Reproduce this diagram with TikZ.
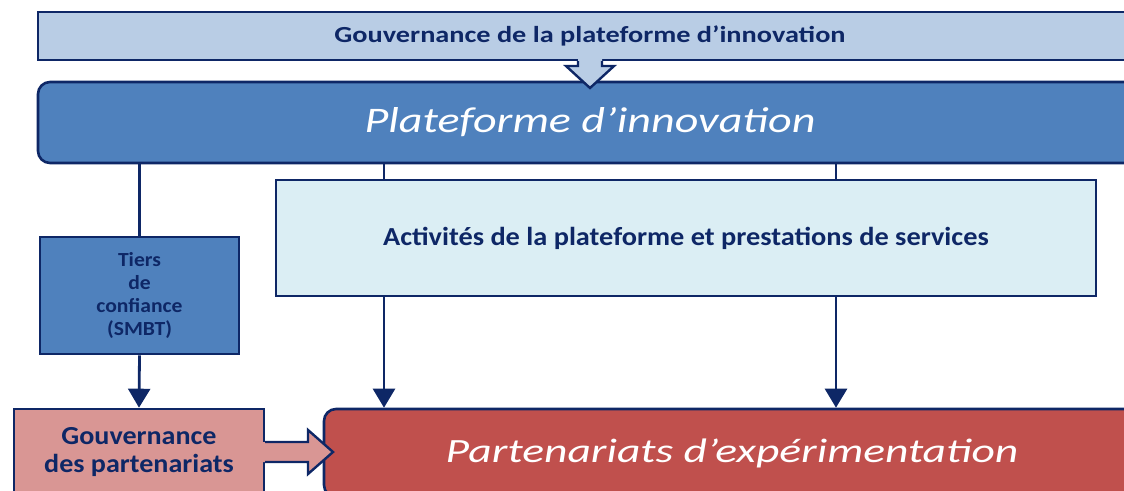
\documentclass[tikz,border=0pt]{standalone}
\usepackage{fontspec}
\setmainfont{Carlito}
\newfontfamily\topfont[FakeStretch=1.23]{Carlito}
\newfontfamily\platfont[FakeStretch=1.28]{Carlito}
\newfontfamily\partfont[FakeStretch=1.34]{Carlito}
\newfontfamily\actfont[FakeStretch=1.09]{Carlito}
\newfontfamily\smallfont[FakeStretch=1.08]{Carlito}
\usetikzlibrary{arrows.meta}
\definecolor{navy}{HTML}{0E2766}
\definecolor{topblue}{HTML}{B9CDE5}
\definecolor{midblue}{HTML}{4F81BD}
\definecolor{paleblue}{HTML}{DBEEF4}
\definecolor{pink}{HTML}{D99694}
\definecolor{redbox}{HTML}{C0504D}
\tikzset{
  box/.style={draw=navy, line width=2.6pt, inner sep=0pt, align=center},
  rbox/.style={box, rounded corners=12pt},
  conn/.style={draw=navy, line width=2.8pt},
  arr/.style={conn, -{Triangle[width=22pt,length=19pt]}},
  blockarrow/.style={draw=navy, line width=2.4pt, line join=miter},
}
\begin{document}
\begin{tikzpicture}[x=1pt,y={(0pt,-1pt)}]
\useasboundingbox (0,0) rectangle (1124,490);
\clip (0,0) rectangle (1124,490);
% top governance bar
\node[box, fill=topblue, minimum width=1104pt, minimum height=48pt,
  font=\topfont\fontsize{23}{26}\selectfont\bfseries, text=navy] (gov) at (590,36)
  {\raisebox{-2pt}{Gouvernance de la plateforme d’innovation}};
% platform
\node[rbox, fill=midblue, minimum width=1104pt, minimum height=81pt,
  font=\platfont\fontsize{36}{40}\selectfont\itshape, text=white] (plat) at (590,122.5)
  {\raisebox{-3pt}{Plateforme d’innovation}};
% down block arrow
\fill[topblue] (578,57) -- (578,66) -- (566,66) -- (590,88) -- (614,66) -- (602,66) -- (602,57) -- cycle;
\draw[blockarrow] (578,61) -- (578,66) -- (566,66) -- (590,88) -- (614,66) -- (602,66) -- (602,61);
% activities
\node[box, fill=paleblue, minimum width=820pt, minimum height=116pt,
  font=\actfont\fontsize{26}{30}\selectfont\bfseries, text=navy] (act) at (686,238)
  {Activités de la plateforme et prestations de services};
% tiers
\node[box, fill=midblue, minimum width=199pt, minimum height=117pt,
  font=\smallfont\fontsize{20}{23}\selectfont\bfseries, text=navy] (tiers) at (139.5,295.5)
  {Tiers\\de\\confiance\\(SMBT)};
% gouvernance des partenariats
\node[box, fill=pink, minimum width=250pt, minimum height=86pt,
  font=\smallfont\fontsize{26}{28}\selectfont\bfseries, text=navy] (gp) at (139,452)
  {Gouvernance\\des partenariats};
% partenariats
\node[rbox, fill=redbox, minimum width=816pt, minimum height=88pt,
  font=\partfont\fontsize{34}{40}\selectfont\itshape, text=white] (part) at (732,453)
  {\raisebox{-3pt}{Partenariats d’expérimentation}};
% right block arrow
\fill[pink] (261,442) -- (308,442) -- (308,430) -- (333,452) -- (308,474) -- (308,462) -- (261,462) -- cycle;
\draw[blockarrow] (265,442) -- (308,442) -- (308,430) -- (333,452) -- (308,474) -- (308,462) -- (265,462);
% connectors
\coordinate (c1) at (384,0);
\coordinate (c2) at (836,0);
\draw[conn] (plat.south -| tiers.north) -- (tiers.north);
\draw[arr] (tiers.south) -- (gp.north);
\draw[conn] (plat.south -| c1) -- (act.north -| c1);
\draw[conn] (plat.south -| c2) -- (act.north -| c2);
\draw[arr] (act.south -| c1) -- (part.north -| c1);
\draw[arr] (act.south -| c2) -- (part.north -| c2);
\end{tikzpicture}
\end{document}
